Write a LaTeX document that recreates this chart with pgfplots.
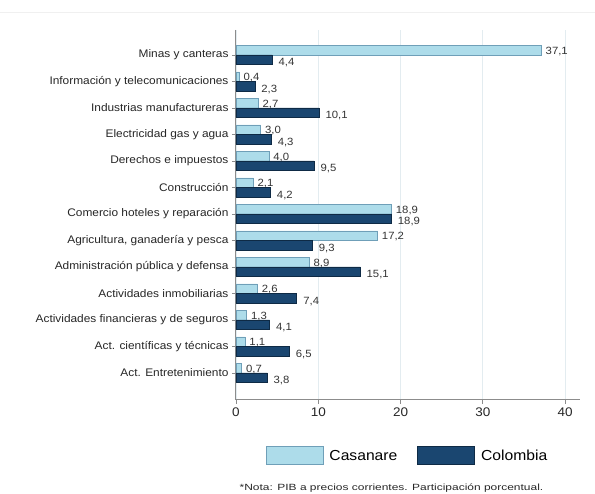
\documentclass[border=0pt]{standalone}
\usepackage{fontspec}
\setmainfont{Liberation Sans}[FakeStretch=1.08]
\newfontfamily\notefont{Liberation Sans}[FakeStretch=1.33]
\usepackage{pgfplots}
\pgfplotsset{compat=1.18}

\definecolor{casa}{HTML}{ADDCEA}
\definecolor{casaedge}{HTML}{6F9FB8}
\definecolor{colo}{HTML}{1A4670}
\definecolor{coloedge}{HTML}{0E2A45}
\definecolor{lbl}{HTML}{333333}
\definecolor{gridc}{HTML}{E3ECF0}

\pgfplotsset{bigbox/.style={legend image code/.code={\draw[##1] (0pt,-9pt) rectangle (57pt,9pt); \path (61pt,0pt);}}}

\begin{document}
\begin{tikzpicture}
\useasboundingbox (0,0) rectangle (595pt,494pt);
\draw[black!6, line width=0.8pt] (0,482pt) -- (595pt,482pt);
\begin{axis}[
  at={(236pt,94pt)}, anchor=south west,
  scale only axis, width=344pt, height=370pt,
  xbar, y dir=reverse,
  bar width=9.5pt,
  xmin=0, xmax=41.8, ymin=-0.943, ymax=13.02,
  xtick={0,10,20,30,40},
  ytick={0,...,12},
  yticklabels={Minas y canteras, Información y telecomunicaciones, Industrias manufactureras,
    Electricidad gas y agua, Derechos e impuestos, Construcción, Comercio hoteles y reparación,
    {Agricultura, ganadería y pesca}, Administración pública y defensa, Actividades inmobiliarias,
    Actividades financieras y de seguros, Act. científicas y técnicas, Act. Entretenimiento},
  axis x line*=bottom, axis y line*=left,
  axis line style={-, draw=black!45, line width=1pt},
  tick style={draw=black!45, line width=0.8pt},
  major tick length=4pt, tick align=outside,
  xmajorgrids, grid style={draw=gridc, line width=0.8pt},
  /pgf/number format/assume math mode=true,
  xticklabel style={font=\fontsize{12.5}{14}\selectfont, text=black!85},
  yticklabel style={font=\fontsize{11}{13}\selectfont, text=black!85},
  nodes near coords,
  nodes near coords style={font=\fontsize{10.5}{12}\selectfont, text=lbl, anchor=west, inner sep=1pt,
    /pgf/number format/fixed, /pgf/number format/fixed zerofill,
    /pgf/number format/precision=1, /pgf/number format/use comma},
  legend style={at={(0.4985,-0.151)}, anchor=center, draw=none, legend columns=2,
    font=\fontsize{14.5}{16}\selectfont,
    /tikz/every even column/.append style={column sep=18pt}},
]
\addplot[fill=casa, draw=casaedge, line width=0.8pt, bar shift=4.75pt, bigbox,
  every node near coord/.append style={xshift=3pt, yshift=-1pt}]
  coordinates {(37.1,0) (0.4,1) (2.7,2) (3.0,3) (4.0,4) (2.1,5) (18.9,6)
    (17.2,7) (8.9,8) (2.6,9) (1.3,10) (1.1,11) (0.7,12)};
\addplot[fill=colo, draw=coloedge, line width=0.8pt, bar shift=-4.75pt, bigbox,
  every node near coord/.append style={xshift=5pt, yshift=-3pt}]
  coordinates {(4.4,0) (2.3,1) (10.1,2) (4.3,3) (9.5,4) (4.2,5) (18.9,6)
    (9.3,7) (15.1,8) (7.4,9) (4.1,10) (6.5,11) (3.8,12)};
\legend{Casanare, Colombia}
\end{axis}
\node[text=black!85, font=\notefont\fontsize{9}{10}\selectfont] at (391.5pt,6pt)
  {*Nota: PIB a precios corrientes. Participación porcentual.};
\end{tikzpicture}
\end{document}
